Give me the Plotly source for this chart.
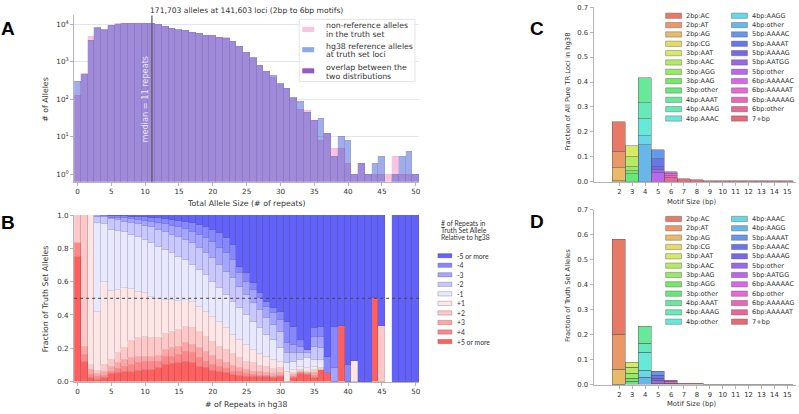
import colorsys
import plotly.graph_objects as go

W, H = 799, 414

# ---------------- panel A: allele size distributions ----------------
repeat_sizes = list(range(51))
hg38_ref_counts = [295, 460, 3800, 8100, 7200, 9100, 10000, 10400, 10400, 10300,
                   10800, 10500, 9800, 8500, 7600, 7100, 6700, 6000, 5700, 5100,
                   5000, 4350, 4250, 3450, 2550, 1800, 1300, 810, 550, 430,
                   270, 200, 115, 85, 45, 27, 30, 12, 3, 10,
                   8, 1, 2, 1, 2, 3, 0, 1, 3, 4, 1]
truth_nonref_counts = [126, 500, 4700, 7800, 7000, 9000, 10200, 10600, 10500, 10400,
                       10700, 10600, 9700, 8700, 7500, 7000, 6750, 6050, 5750, 5150,
                       4950, 4400, 4400, 3400, 2550, 1800, 1250, 800, 550, 380,
                       255, 190, 107, 55, 50, 27, 8, 12, 5, 5,
                       2, 1, 2, 1, 1, 1, 1, 3, 1, 1, 1]
median_repeats = 11

# ---------------- panel B: share of truth set alleles by repeat change ----------------
# top of each band (cumulative, from the bottom) for each hg38 repeat count; None = no loci
top_p5 = [.745, .12, .02, .012, .02, .045, .05, .055, .06, .065, .07, .07, .08, .10, .105, .11, .115, .11, .09, .08,
          .065, .055, .05, .04, .035, .03, .03, .025, .025, .02, .03, 0, .02, .045, .04, .02, .07, .05, 0, .333,
          0, 0, 0, 0, .5, 0, None, 0, 0, 0, 0]
top_p4 = [.83, .157, .04, .025, .035, .06, .075, .09, .10, .11, .115, .115, .12, .145, .15, .16, .175, .17, .14, .12,
          .10, .085, .075, .06, .055, .045, .04, .035, .035, .03, .035, 0, .03, .05, .045, .035, .07, .05, 0, .333,
          0, 0, 0, 0, .5, 0, None, 0, 0, 0, 0]
top_p3 = [.83, .21, .07, .045, .06, .09, .11, .13, .14, .145, .15, .15, .155, .19, .20, .21, .23, .22, .20, .18,
          .155, .13, .11, .095, .08, .07, .06, .055, .05, .045, .05, 0, .04, .06, .05, .05, .07, .05, 0, .333,
          0, 0, 0, 0, .5, 0, None, 0, 0, 0, 0]
top_p2 = [1, 1, .10, .065, .10, .13, .17, .20, .245, .26, .265, .26, .26, .285, .30, .31, .33, .32, .30, .27,
          .24, .21, .19, .165, .14, .12, .11, .095, .085, .075, .08, 0, .05, .07, .06, .07, .075, .05, 0, .333,
          0, 0, 0, 0, .5, .333, None, 0, 0, 0, 0]
top_p1 = [1, 1, 1, .42, .60, .545, .55, .56, .555, .54, .53, .51, .495, .49, .49, .485, .49, .475, .45, .42,
          .39, .36, .32, .28, .25, .22, .19, .165, .15, .13, .12, .055, .07, .09, .08, .09, .08, .05, 0, .333,
          0, .125, 0, 0, .5, .333, None, 0, 0, 0, 0]
top_m1 = [1, 1, 1, .955, .945, .91, .905, .895, .88, .865, .85, .83, .81, .79, .77, .75, .73, .70, .67, .64,
          .60, .56, .52, .48, .44, .40, .36, .32, .28, .25, .20, .11, .12, .13, .14, .13, .13, .05, 0, .333,
          0, .125, 0, 0, .5, .333, None, 0, 0, 0, 0]
top_m2 = [1, 1, 1, .99, .99, .975, .97, .96, .955, .945, .935, .925, .91, .895, .88, .865, .85, .83, .80, .77,
          .74, .70, .66, .62, .57, .52, .47, .43, .38, .34, .30, .17, .17, .17, .17, .21, .20, .05, 0, .333,
          0, .125, 0, 0, .5, .333, None, 0, 0, 0, 0]
top_m3 = [1, 1, 1, 1, .995, .985, .985, .98, .975, .97, .965, .96, .955, .945, .935, .925, .915, .90, .88, .86,
          .835, .80, .77, .73, .65, .60, .55, .50, .45, .41, .37, .23, .22, .21, .19, .27, .27, .05, .08, .333,
          0, .125, 0, 0, .5, .333, None, 0, 0, 0, 0]
top_m4 = [1, 1, 1, 1, 1, .995, .995, .995, .99, .99, .99, .985, .98, .975, .97, .965, .96, .95, .94, .93,
          .91, .89, .86, .82, .69, .65, .59, .53, .48, .44, .42, .36, .33, .25, .19, .32, .33, .15, .33, .333,
          .10, .125, 0, 0, .5, .333, None, 0, 0, 0, 0]
shift_labels = ["+5 or more", "+4", "+3", "+2", "+1", "-1", "-2", "-3", "-4", "-5 or more"]
shift_colors = ["#ff5f5f", "#ff8787", "#ffa5a5", "#ffc8c8", "#ffe6e6",
                "#e8e8ff", "#c8c8ff", "#a5a5ff", "#8787ff", "#6262fa"]

# ---------------- panels C / D: motif composition ----------------
motif_sizes = list(range(2, 16))
loci_labels = ["2bp:AC", "2bp:AT", "2bp:AG", "2bp:CG", "3bp:AAT", "3bp:AAC", "3bp:AGG", "3bp:AAG",
               "3bp:other", "4bp:AAAT", "4bp:AAAG", "4bp:AAAC", "4bp:AAGG", "4bp:other", "5bp:AAAAC",
               "5bp:AAAAT", "5bp:AAAAG", "5bp:AATGG", "5bp:other", "6bp:AAAAAC", "6bp:AAAAAT",
               "6bp:AAAAAG", "6bp:other", "7+bp"]
loci_fractions = [0.12, 0.065, 0.054, 0.001, 0.044, 0.037, 0.016, 0.013, 0.031, 0.101, 0.066, 0.066,
                  0.036, 0.147, 0.036, 0.031, 0.015, 0.012, 0.033, 0.008, 0.007, 0.008, 0.015]
loci_7plus = [0.010, 0.005, 0.003, 0.002, 0.0015, 0.001, 0.0008, 0.0005, 0.0005]

allele_labels = ["2bp:AC", "2bp:AT", "2bp:AG", "2bp:CG", "3bp:AAT", "3bp:AAC", "3bp:AAG", "3bp:AGG",
                 "3bp:other", "4bp:AAAT", "4bp:AAAG", "4bp:other", "4bp:AAAC", "4bp:AAGG", "5bp:AAAAT",
                 "5bp:AAAAC", "5bp:AAAAG", "5bp:other", "5bp:AATGG", "6bp:AAAAAC", "6bp:other",
                 "6bp:AAAAAG", "6bp:AAAAAT", "7+bp"]
allele_fractions = [0.377, 0.143, 0.058, 0.001, 0.019, 0.024, 0.018, 0.013, 0.013, 0.067, 0.035, 0.073,
                    0.030, 0.027, 0.016, 0.012, 0.008, 0.012, 0.005, 0.004, 0.005, 0.003, 0.003]
allele_7plus = [0.004, 0.003, 0.0015, 0.001, 0.001, 0.0015, 0.0005, 0.0003, 0.0002]


def px(x):
    return x / W


def py(y):
    return 1 - y / H


def motif_color(i):
    r, g, b = colorsys.hls_to_rgb((8 + 15 * i) / 360, 0.6, 0.75)
    a = 0.85
    return "rgb(%d,%d,%d)" % tuple(round(255 * (1 - a) + 255 * c * a) for c in (r, g, b))


FONT = "DejaVu Sans"
TXT = "#333333"
fig = go.Figure()

# panel A (blue drawn on an overlaid axis so the two histograms overlap instead of stacking)
fig.add_trace(go.Bar(x=repeat_sizes, y=[v if v > 0 else None for v in truth_nonref_counts],
                     marker=dict(color="rgb(250,195,225)", line=dict(width=0.4, color="rgba(235,170,210,0.5)")),
                     width=1, xaxis="x", yaxis="y", showlegend=False))
fig.add_trace(go.Bar(x=repeat_sizes, y=[v if v > 0 else None for v in hg38_ref_counts],
                     marker=dict(color="rgba(30,60,200,0.42)", line=dict(width=0.4, color="rgba(90,90,200,0.3)")),
                     width=1, xaxis="x", yaxis="y5", showlegend=False))

# panel B
tops = [top_p5, top_p4, top_p3, top_p2, top_p1, top_m1, top_m2, top_m3, top_m4,
        [None if v is None else 1 for v in top_m4]]
for j, label in enumerate(shift_labels):
    lower = tops[j - 1] if j > 0 else [0 if v is not None else None for v in tops[0]]
    share = [None if t is None else round(t - b, 4) for t, b in zip(tops[j], lower)]
    fig.add_trace(go.Bar(x=repeat_sizes, y=share, name=label, width=1,
                         marker=dict(color=shift_colors[j], line=dict(width=0.5, color="rgba(60,60,60,0.25)")),
                         xaxis="x2", yaxis="y2", showlegend=False))


def motif_traces(labels, fractions, plus7, xa, ya):
    for i in reversed(range(len(labels))):
        lab = labels[i]
        if lab == "7+bp":
            xs, ys = list(range(7, 16)), plus7
        else:
            xs, ys = [int(lab.split("bp")[0])], [fractions[i]]
        fig.add_trace(go.Bar(x=xs, y=ys, name=lab, width=1,
                             marker=dict(color=motif_color(i), line=dict(width=0.8, color="rgba(90,90,90,0.6)")),
                             xaxis=xa, yaxis=ya, showlegend=False))


motif_traces(loci_labels, loci_fractions, loci_7plus, "x3", "y3")
motif_traces(allele_labels, allele_fractions, allele_7plus, "x4", "y4")

ax_common = dict(showline=True, linecolor="#b5b5b5", linewidth=1, ticks="outside", ticklen=3,
                 tickcolor="#b5b5b5", tickfont=dict(family=FONT, size=7.2, color=TXT),
                 showgrid=False, zeroline=False)
small = {**ax_common, "tickfont": dict(family=FONT, size=6.8, color=TXT)}

fig.update_layout(
    width=W, height=H, margin=dict(l=0, r=0, t=0, b=0), autosize=False,
    paper_bgcolor="white", plot_bgcolor="white", barmode="stack", bargap=0,
    xaxis=dict(domain=[px(74.3), px(420.2)], range=[-0.5, 50.5], tickvals=list(range(0, 51, 5)),
               anchor="y", **ax_common),
    yaxis=dict(domain=[py(181.7), py(11.7)], type="log", range=[-0.2, 4.234], anchor="x",
               tickvals=[1, 10, 100, 1000, 10000],
               ticktext=["10<sup>%d</sup>" % n for n in range(5)],
               **{**ax_common, "showgrid": True, "gridcolor": "#e4e4f4"}),
    yaxis5=dict(type="log", range=[-0.2, 4.234], overlaying="y", anchor="x", visible=False),
    xaxis2=dict(domain=[px(74.3), px(420.2)], range=[-0.5, 50.5], tickvals=list(range(0, 51, 5)),
                anchor="y2", **ax_common),
    yaxis2=dict(domain=[py(386), py(215.7)], range=[0, 1], dtick=0.2, tickformat=".1f",
                anchor="x2", **ax_common),
    xaxis3=dict(domain=[px(595), px(798)], range=[0, 15.67], tickvals=motif_sizes, anchor="y3", **small),
    yaxis3=dict(domain=[py(181.7), py(3.3)], range=[0, 0.7], dtick=0.1, tickformat=".1f", anchor="x3", **small),
    xaxis4=dict(domain=[px(595), px(798)], range=[0, 15.67], tickvals=motif_sizes, anchor="y4", **small),
    yaxis4=dict(domain=[py(389.3), py(210.3)], range=[0, 0.7], dtick=0.1, tickformat=".1f", anchor="x4", **small),
)

shapes = []
ann = []


def text(x, y, s, size=8, angle=0, anchor="center", color=TXT, family=FONT):
    ann.append(dict(x=px(x), y=py(y), xref="paper", yref="paper", text=s, showarrow=False,
                    textangle=angle, xanchor=anchor, yanchor="middle",
                    font=dict(family=family, size=size, color=color)))


def rect(x0, y0, x1, y1, fill, line="rgba(0,0,0,0)", lw=0.6):
    shapes.append(dict(type="rect", xref="paper", yref="paper", x0=px(x0), x1=px(x1),
                       y0=py(y1), y1=py(y0), fillcolor=fill, line=dict(color=line, width=lw)))


# reference lines
shapes.append(dict(type="line", xref="x", yref="y domain", x0=median_repeats, x1=median_repeats,
                   y0=0, y1=1, line=dict(color="#555555", width=1.2)))
ann.append(dict(x=10.03, y=2.0, xref="x", yref="y", text="median = %d repeats" % median_repeats,
                showarrow=False, textangle=-90, font=dict(family=FONT, size=8.2, color="rgba(236,236,250,0.95)")))
shapes.append(dict(type="line", xref="x2 domain", yref="y2", x0=0, x1=1, y0=0.5, y1=0.5,
                   line=dict(color="#444444", width=1, dash="dot")))

# titles and axis labels
text(247, 6.5, "171,703 alleles at 141,603 loci (2bp to 6bp motifs)", 7.6)
text(247, 204, "Total Allele Size (# of repeats)", 7.8)
text(46, 97, "# of Alleles", 7.8, -90)
text(247, 409, "# of Repeats in hg38", 7.8)
text(46, 301, "Fraction of Truth Set Alleles", 7.8, -90)
text(694, 202, "Motif Size (bp)", 6.8)
text(569, 90, "Fraction of All Pure TR Loci in hg38", 6.8, -90)
text(694, 408.5, "Motif Size (bp)", 6.8)
text(569, 298, "Fraction of Truth Set Alleles", 6.8, -90)
for letter, x, y in [("A", 8, 25), ("B", 8, 223), ("C", 538, 25), ("D", 538, 222)]:
    text(x, y, "<b>%s</b>" % letter, 19, family="Liberation Sans", color="black")

# legend A
rect(300, 15.7, 416, 79.3, "rgba(255,255,255,0.85)", "#dddddd", 0.8)
legA = [("rgb(250,195,225)", "non-reference alleles", "in the truth set", 26),
        ("rgb(140,170,230)", "hg38 reference alleles", "at truth set loci", 46.7),
        ("rgb(150,90,200)", "overlap between the", "two distributions", 68.3)]
for col, l1, l2, yc in legA:
    rect(303, yc - 2.6, 315, yc + 2.6, col)
    text(325, yc - 3.6, l1, 7.8, anchor="left")
    text(325, yc + 5.4, l2, 7.8, anchor="left")

# legend B
for k, line in enumerate(["# of Repeats in", "Truth Set Allele", "Relative to hg38"]):
    text(440, 224 + 7.2 * k, line, 6.8, anchor="left", family="Lato")
for k, j in enumerate(reversed(range(len(shift_labels)))):
    yc = 257.3 + 9.75 * k
    rect(439, yc - 2.2, 453, yc + 2.2, shift_colors[j], "rgba(60,60,60,0.5)", 0.5)
    text(456, yc, shift_labels[j], 6.8, anchor="left", family="Lato")


# legends C / D (two columns)
def motif_legend(labels, y_first):
    for i, lab in enumerate(labels):
        col, row = divmod(i, 12)
        yc = y_first + 9.55 * row
        x0 = 667.3 if col == 0 else 733.3
        rect(x0, yc - 2.7, x0 + 16, yc + 2.7, motif_color(i), "rgba(90,90,90,0.6)", 0.7)
        text(x0 + 18.5, yc, lab, 6.5, anchor="left")


motif_legend(loci_labels, 12)
motif_legend(allele_labels, 219.7)

fig.update_layout(shapes=shapes, annotations=ann)
fig.write_html("out.html", config={"displayModeBar": False},
               post_script="document.body.style.margin='0';")
